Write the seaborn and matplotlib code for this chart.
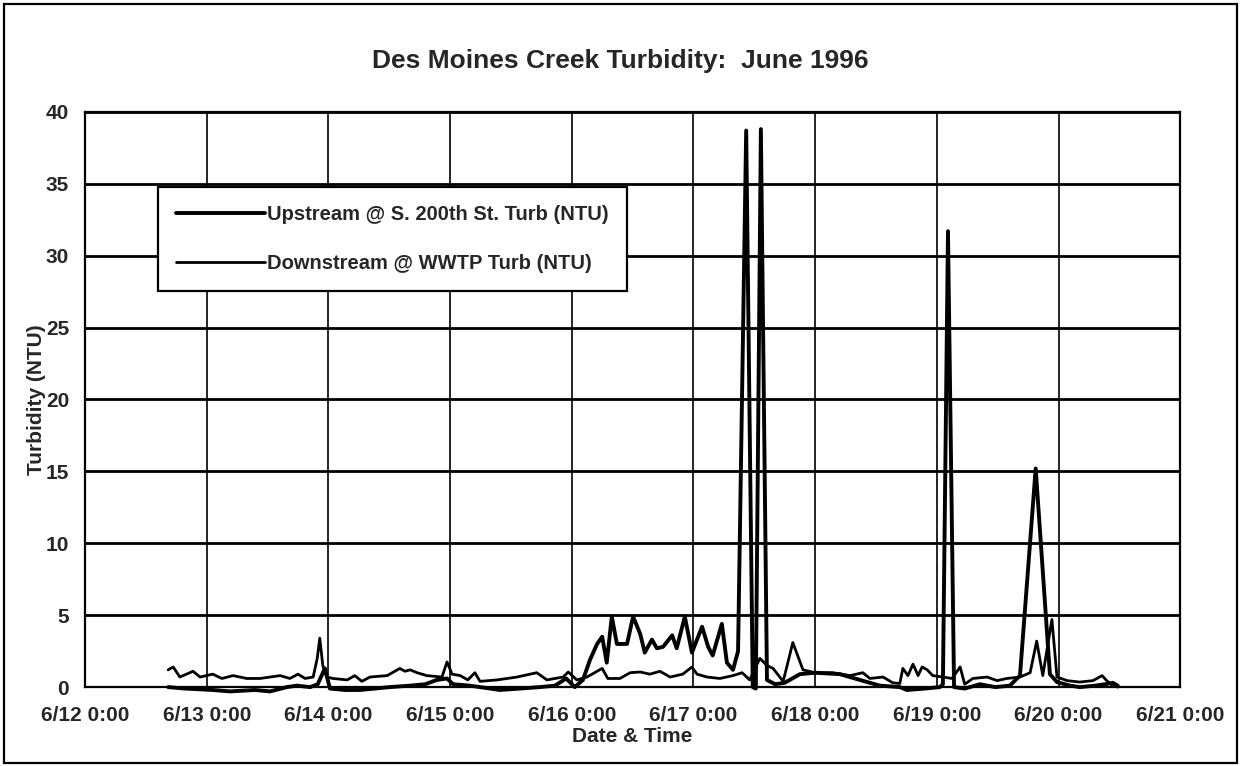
import pandas as pd
import matplotlib.pyplot as plt
import matplotlib.dates as mdates
import matplotlib.ticker as mticker
from matplotlib.patches import Rectangle
import seaborn as sns

# hours after 6/12/1996 0:00 and turbidity (NTU)
up_hours = [16.4, 19.7, 25.2, 28.6, 33.5, 36.5, 39.8, 41.8, 44.4, 45.9, 47.3, 48.3,
            51.3, 54.2, 57.2, 60.1, 64.1, 67.1, 69.4, 71.4, 72.6, 75.9, 79.9, 81.8,
            85.8, 89.7, 92.7, 94.9, 96.6, 98.2, 99.6, 101.0, 102.0, 102.9, 103.9,
            104.9, 106.9, 108.1, 109.5, 110.4, 111.8, 112.8, 114.0, 115.8, 116.7,
            118.3, 119.7, 121.7, 122.9, 123.8, 125.6, 126.6, 127.8, 128.8, 130.4,
            131.7, 132.3, 133.3, 134.5, 136.1, 138.0, 141.0, 144.0, 148.9, 152.8,
            156.8, 160.7, 162.1, 165.7, 168.6, 169.2, 170.2, 171.4, 173.5, 176.5,
            179.5, 182.4, 184.4, 187.5, 190.3, 191.7, 194.3, 196.2, 199.2, 201.2,
            202.7, 203.7]
up_ntu = [0.0, -0.1, -0.2, -0.3, -0.2, -0.3, 0.0, 0.1, 0.0, 0.2, 1.3, -0.1,
          -0.2, -0.2, -0.1, 0.0, 0.1, 0.2, 0.5, 0.6, 0.2, 0.1, -0.1, -0.2,
          -0.1, 0.0, 0.1, 0.6, 0.0, 0.5, 1.9, 3.0, 3.5, 1.7, 4.9,
          3.0, 3.0, 4.9, 3.7, 2.4, 3.3, 2.7, 2.8, 3.6, 2.7,
          4.9, 2.4, 4.2, 2.8, 2.2, 4.4, 1.7, 1.2, 2.5, 38.7,
          0.0, -0.1, 38.8, 0.5, 0.2, 0.3, 0.9, 1.0, 0.9, 0.5,
          0.1, 0.0, -0.2, -0.1, 0.0, 0.2, 31.7, 0.0, -0.1, 0.2,
          0.0, 0.1, 0.8, 15.2, 0.9, 0.35, 0.1, 0.0, 0.1, 0.2,
          0.3, 0.1]

down_hours = [16.4, 17.4, 18.7, 21.3, 22.7, 25.2, 27.0, 29.2, 31.9, 34.5, 36.5, 38.5,
              40.4, 42.0, 43.4, 45.0, 45.8, 46.3, 46.9, 47.7, 48.9, 51.7, 53.2, 54.6,
              56.2, 59.6, 62.1, 63.1, 64.1, 65.5, 67.4, 70.4, 71.4, 72.4, 74.0, 75.5,
              76.9, 77.9, 81.3, 85.2, 89.1, 91.1, 94.3, 95.3, 97.0, 99.0, 102.0, 103.1,
              105.5, 107.5, 109.5, 111.4, 113.4, 115.4, 117.9, 119.7, 120.7, 122.7,
              125.2, 127.8, 129.6, 131.1, 133.1, 134.5, 135.7, 137.7, 139.6, 141.6,
              144.0, 147.5, 150.9, 153.4, 154.8, 157.4, 159.3, 160.7, 161.3, 162.3,
              163.3, 164.3, 165.1, 166.1, 167.2, 169.2, 171.0, 172.6, 173.5, 175.1,
              177.9, 179.9, 181.8, 184.4, 186.4, 187.7, 188.9, 190.7, 191.7, 193.7,
              196.2, 198.8, 200.6, 201.5, 202.7, 203.7]
down_ntu = [1.2, 1.4, 0.7, 1.1, 0.7, 0.9, 0.6, 0.8, 0.6, 0.6, 0.7, 0.8,
            0.6, 0.9, 0.6, 0.7, 2.0, 3.4, 1.5, 0.7, 0.6, 0.5, 0.8, 0.4,
            0.7, 0.8, 1.3, 1.1, 1.2, 1.0, 0.8, 0.7, 1.75, 0.9, 0.8, 0.5,
            1.0, 0.4, 0.5, 0.7, 1.0, 0.5, 0.7, 1.05, 0.5, 0.7, 1.3, 0.6,
            0.6, 1.0, 1.05, 0.9, 1.1, 0.7, 0.9, 1.4, 0.9, 0.7,
            0.6, 0.8, 1.0, 0.5, 2.0, 1.5, 1.3, 0.4, 3.1, 1.2,
            1.0, 1.0, 0.8, 1.0, 0.6, 0.7, 0.3, 0.25, 1.3, 0.8,
            1.6, 0.8, 1.4, 1.2, 0.8, 0.7, 0.6, 1.4, 0.2, 0.6,
            0.7, 0.45, 0.6, 0.7, 1.0, 3.2, 0.8, 4.7, 0.7, 0.45,
            0.35, 0.45, 0.8, 0.45, 0.1, 0.0]

start = pd.Timestamp("1996-06-12")
end = pd.Timestamp("1996-06-21")
up = pd.DataFrame({"time": start + pd.to_timedelta(up_hours, unit="h"), "ntu": up_ntu})
down = pd.DataFrame({"time": start + pd.to_timedelta(down_hours, unit="h"), "ntu": down_ntu})

sns.set_style("white")
plt.rcParams["font.family"] = ["Liberation Sans", "DejaVu Sans"]

fig = plt.figure(figsize=(12.41, 7.66), dpi=100)
ax = fig.add_axes([0.0685, 0.103, 0.8825, 0.751])

sns.lineplot(data=up, x="time", y="ntu", color="black", lw=2.8,
             label="Upstream @ S. 200th St. Turb (NTU)", ax=ax)
sns.lineplot(data=down, x="time", y="ntu", color="black", lw=2.0,
             label="Downstream @ WWTP Turb (NTU)", ax=ax)
for ln in ax.lines:
    ln.set_clip_on(False)

ax.set_xlim(start, end)
ax.set_ylim(0, 40)


def date_label(v, pos):
    d = mdates.num2date(v)
    return f"{d.month}/{d.day} {d.hour}:{d.minute:02d}"


ax.xaxis.set_major_locator(mdates.DayLocator())
ax.xaxis.set_minor_locator(mdates.HourLocator(byhour=[6, 12, 18]))
ax.xaxis.set_major_formatter(mticker.FuncFormatter(date_label))
ax.yaxis.set_major_locator(mticker.MultipleLocator(5))
ax.yaxis.set_minor_locator(mticker.MultipleLocator(1))

ax.grid(which="major", axis="y", color="black", lw=2.0)
ax.grid(which="major", axis="x", color="black", lw=1.2)
for sp in ax.spines.values():
    sp.set_color("black")
    sp.set_linewidth(1.6)

ax.tick_params(which="both", direction="inout", color="black", width=1.4)
ax.tick_params(which="major", length=9, labelsize=15)
ax.tick_params(which="minor", length=8)
ax.tick_params(axis="x", which="major", pad=9)
ax.tick_params(axis="y", which="major", pad=7)
for lbl in ax.get_xticklabels() + ax.get_yticklabels():
    lbl.set_fontweight("bold")

ax.set_xlabel("Date & Time", fontsize=15, fontweight="bold")
ax.set_ylabel("Turbidity (NTU)", fontsize=15, fontweight="bold")
ax.xaxis.set_label_coords(0.5, -0.07)
ax.yaxis.set_label_coords(-0.036, 0.5)

leg = ax.legend(loc="upper left", bbox_to_anchor=(0.0667, 0.8696), borderaxespad=0,
                frameon=True, fancybox=False, edgecolor="black", framealpha=1,
                prop={"size": 14.5, "weight": "bold"}, handlelength=4.4,
                handletextpad=0.1, labelspacing=1.5, borderpad=0.9)
leg.get_frame().set_linewidth(1.6)

fig.text(0.5, 0.921, "Des Moines Creek Turbidity:  June 1996", ha="center",
         va="center", fontsize=19, fontweight="bold")
fig.patches.append(Rectangle((0.003, 0.004), 0.994, 0.991, transform=fig.transFigure,
                             fill=False, ec="black", lw=1.6))

fig.savefig("out.png", dpi=100)
